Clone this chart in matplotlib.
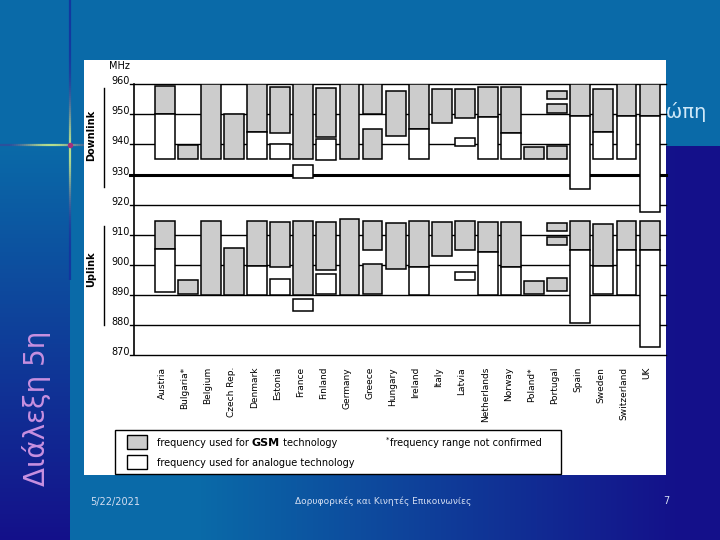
import matplotlib
matplotlib.use("Agg")
import matplotlib.pyplot as plt
import numpy as np
from matplotlib.patches import Rectangle
from matplotlib.collections import LineCollection

plt.rcParams['font.family'] = ['DejaVu Sans']

countries = ["Austria", "Bulgaria*", "Belgium", "Czech Rep.", "Denmark", "Estonia",
             "France", "Finland", "Germany", "Greece", "Hungary", "Ireland", "Italy",
             "Latvia", "Netherlands", "Norway", "Poland*", "Portugal", "Spain",
             "Sweden", "Switzerland", "UK"]

# downlink bands (MHz), (country, low, high)
dl_gsm = [("Austria", 950, 959.5), ("Bulgaria*", 935, 939.7), ("Belgium", 935, 960),
          ("Czech Rep.", 935, 950), ("Denmark", 944, 960), ("Estonia", 943.7, 959.2),
          ("France", 935, 960), ("Finland", 942.5, 958.7), ("Germany", 935, 960),
          ("Greece", 950, 960), ("Greece", 935, 945), ("Hungary", 942.7, 957.8),
          ("Ireland", 945, 960), ("Italy", 947, 958.3), ("Latvia", 948.7, 958.3),
          ("Netherlands", 949, 959), ("Norway", 943.7, 959.2), ("Poland*", 935, 939),
          ("Portugal", 955.1, 957.7), ("Portugal", 950.4, 953.4), ("Portugal", 935, 939.5),
          ("Spain", 949.5, 960), ("Sweden", 944, 958.3), ("Switzerland", 949.5, 960),
          ("UK", 949.5, 960)]
dl_analog = [("Austria", 935, 950), ("Denmark", 935, 944), ("Estonia", 935, 940),
             ("France", 928.8, 933.2), ("Finland", 934.8, 941.7), ("Ireland", 935, 945),
             ("Latvia", 939.4, 942), ("Netherlands", 935, 949), ("Norway", 935, 943.7),
             ("Spain", 925.1, 949.5), ("Sweden", 935, 944), ("Switzerland", 935, 949.5),
             ("UK", 917.4, 949.5)]

# uplink bands (MHz)
ul_gsm = [("Austria", 905.1, 914.7), ("Bulgaria*", 890.3, 894.8), ("Belgium", 890, 914.5),
          ("Czech Rep.", 890, 905.5), ("Denmark", 899.5, 914.5), ("Estonia", 899.2, 914.1),
          ("France", 890, 914.5), ("Finland", 898.2, 914.1), ("Germany", 890, 915.3),
          ("Greece", 904.8, 914.5), ("Greece", 890.3, 900.2), ("Hungary", 898.7, 913.8),
          ("Ireland", 899.4, 914.5), ("Italy", 902.8, 914.1), ("Latvia", 904.8, 914.5),
          ("Netherlands", 904.4, 914.1), ("Norway", 899.2, 914.1), ("Poland*", 890.3, 894.5),
          ("Portugal", 911.1, 913.8), ("Portugal", 906.5, 909.1), ("Portugal", 891.3, 895.5),
          ("Spain", 904.9, 914.5), ("Sweden", 899.5, 913.5), ("Switzerland", 904.8, 914.5),
          ("UK", 904.8, 914.5)]
ul_analog = [("Austria", 891, 905.1), ("Denmark", 890, 899.5), ("Estonia", 890, 895.2),
             ("France", 884.5, 888.6), ("Finland", 890.4, 896.9), ("Ireland", 890, 899.4),
             ("Latvia", 894.8, 897.5), ("Netherlands", 890, 904.4), ("Norway", 890, 899.2),
             ("Spain", 880.5, 904.9), ("Sweden", 890.4, 899.5), ("Switzerland", 890, 904.8),
             ("UK", 872.7, 904.8)]

freq_ticks = [960, 950, 940, 930, 920, 910, 900, 890, 880, 870]

W, H = 720, 540
fig = plt.figure(figsize=(7.2, 5.4), dpi=100)

# ---- slide background (pixel coordinates, y down) ----
bg = fig.add_axes([0, 0, 1, 1])
blue = np.array([10, 106, 168]) / 255
navy = np.array([20, 16, 138]) / 255
yy, xx = np.mgrid[0:H, 0:W]
t_right = np.clip((xx - 200) / 480.0, 0, 1)
t_left = np.clip((yy - 146) / (H - 146.0), 0, 1)
t = np.where(xx >= 70, t_right, t_left)
t = np.where(yy < 146, 0, t)
img = blue[None, None, :] * (1 - t[..., None]) + navy[None, None, :] * t[..., None]
bg.imshow(img, extent=(0, W, H, 0), aspect='auto', zorder=0)
bg.set_xlim(0, W)
bg.set_ylim(H, 0)
bg.axis('off')

# glowing cross
dark = np.array([0.08, 0.2, 0.62])
glow = np.array([0.78, 0.92, 0.55])
ys = np.arange(0, 280, 2.0)
segs = [[(70, a), (70, a + 2)] for a in ys]
w = np.exp(-((ys - 150) / 45.0) ** 2)
cols = [tuple(dark * (1 - k) + glow * k) + (0.9,) for k in w]
bg.add_collection(LineCollection(segs, colors=cols, linewidths=1.6, zorder=1))
xs = np.arange(0, 84, 2.0)
segs = [[(a, 145), (a + 2, 145)] for a in xs]
w = np.clip(np.exp(-((xs - 50) / 30.0) ** 2), 0.15, 1)
cols = [tuple(dark * (1 - k) + glow * k) + (0.9,) for k in w]
bg.add_collection(LineCollection(segs, colors=cols, linewidths=1.6, zorder=1))
bg.plot([70], [145], 'o', ms=3, color='#a03080', zorder=1)

# hidden title tail
bg.text(707, 112, "Ευρώπη", ha='right', va='center', fontsize=14, color='#cfe8f8', zorder=1)

# picture area
bg.add_patch(Rectangle((84, 60), 582, 415, fc='white', ec='none', zorder=2))

bg.text(91, 135, "Downlink", rotation=90, ha='center', va='center', fontsize=7,
        fontweight='bold', zorder=3)
bg.plot([104.3, 104.3], [88, 187], color='black', lw=1, zorder=3)
bg.text(91, 269, "Uplink", rotation=90, ha='center', va='center', fontsize=7,
        fontweight='bold', zorder=3)
bg.plot([104.3, 104.3], [226, 325], color='black', lw=1, zorder=3)
bg.text(119, 66, "MHz", ha='center', va='center', fontsize=7, zorder=3)

# legend box
bg.add_patch(Rectangle((115, 430), 446, 44, fc='white', ec='black', lw=1, zorder=3))
bg.add_patch(Rectangle((127.3, 435), 19.4, 14, fc='#cccccc', ec='black', lw=1, zorder=4))
bg.add_patch(Rectangle((127.3, 455.3), 19.4, 14, fc='white', ec='black', lw=1, zorder=4))
t1 = bg.text(156.7, 442.5, "frequency used for ", ha='left', va='center',
             fontsize=7, zorder=4)
t2 = bg.annotate("GSM", xy=(1, 0.5), xycoords=t1, ha='left', va='center',
                 fontsize=8, fontweight='bold', zorder=4)
bg.annotate(" technology", xy=(1, 0.5), xycoords=t2, ha='left', va='center',
            fontsize=7, zorder=4)
bg.text(156.7, 462.5, "frequency used for analogue technology", ha='left', va='center',
        fontsize=7, zorder=4)
bg.text(385.5, 440, "*", ha='left', va='center', fontsize=5, zorder=4)
bg.text(390, 443, "frequency range not confirmed", ha='left', va='center',
        fontsize=7, zorder=4)

# footer
foot = '#d4def2'
bg.text(90, 502, "5/22/2021", ha='left', va='center', fontsize=7, color=foot, zorder=3)
bg.text(383, 501, "Δορυφορικές και Κινητές Επικοινωνίες", ha='center', va='center',
        fontsize=6.5, color=foot, zorder=3)
bg.text(666, 501, "7", ha='center', va='center', fontsize=7, color=foot, zorder=3)
bg.text(37, 408, "Διάλεξη 5η", rotation=90, ha='center', va='center', fontsize=20,
        color='#c890e0', zorder=3)

# ---- chart ----
x0, x1, ytop, ybot = 134.3, 666.0, 84.3, 355.0
ax = fig.add_axes([x0 / W, 1 - ybot / H, (x1 - x0) / W, (ybot - ytop) / H], zorder=5)
ax.patch.set_visible(False)
ax.set_xlim(-1.317, 21.71)
ax.set_ylim(870, 960)
for s in ['top', 'right', 'bottom']:
    ax.spines[s].set_visible(False)
ax.spines['left'].set_linewidth(1.2)
ax.set_xticks([])
ax.set_yticks([])

for v in freq_ticks:
    ax.axhline(v, xmin=-0.009, xmax=1, clip_on=False, color='black',
               lw=2.2 if v == 930 else 1.0, zorder=1)
    ax.text(-0.008, v, str(v), transform=ax.get_yaxis_transform(), ha='right',
            va='baseline', fontsize=7)

pos = {c: i for i, c in enumerate(countries)}
bw = 0.86
for segs_, fc in [(dl_gsm, '#cccccc'), (dl_analog, 'white'),
                  (ul_gsm, '#cccccc'), (ul_analog, 'white')]:
    xs_ = [pos[c] for c, lo, hi in segs_]
    lows = [lo for c, lo, hi in segs_]
    hts = [hi - lo for c, lo, hi in segs_]
    ax.bar(xs_, hts, bottom=lows, width=bw, color=fc, edgecolor='black',
           linewidth=1.1, zorder=3)

for i, c in enumerate(countries):
    ax.text(i - 0.12, -0.044, c, transform=ax.get_xaxis_transform(), rotation=90,
            ha='center', va='top', fontsize=6.5, clip_on=False)

fig.savefig("out.png", dpi=100)
